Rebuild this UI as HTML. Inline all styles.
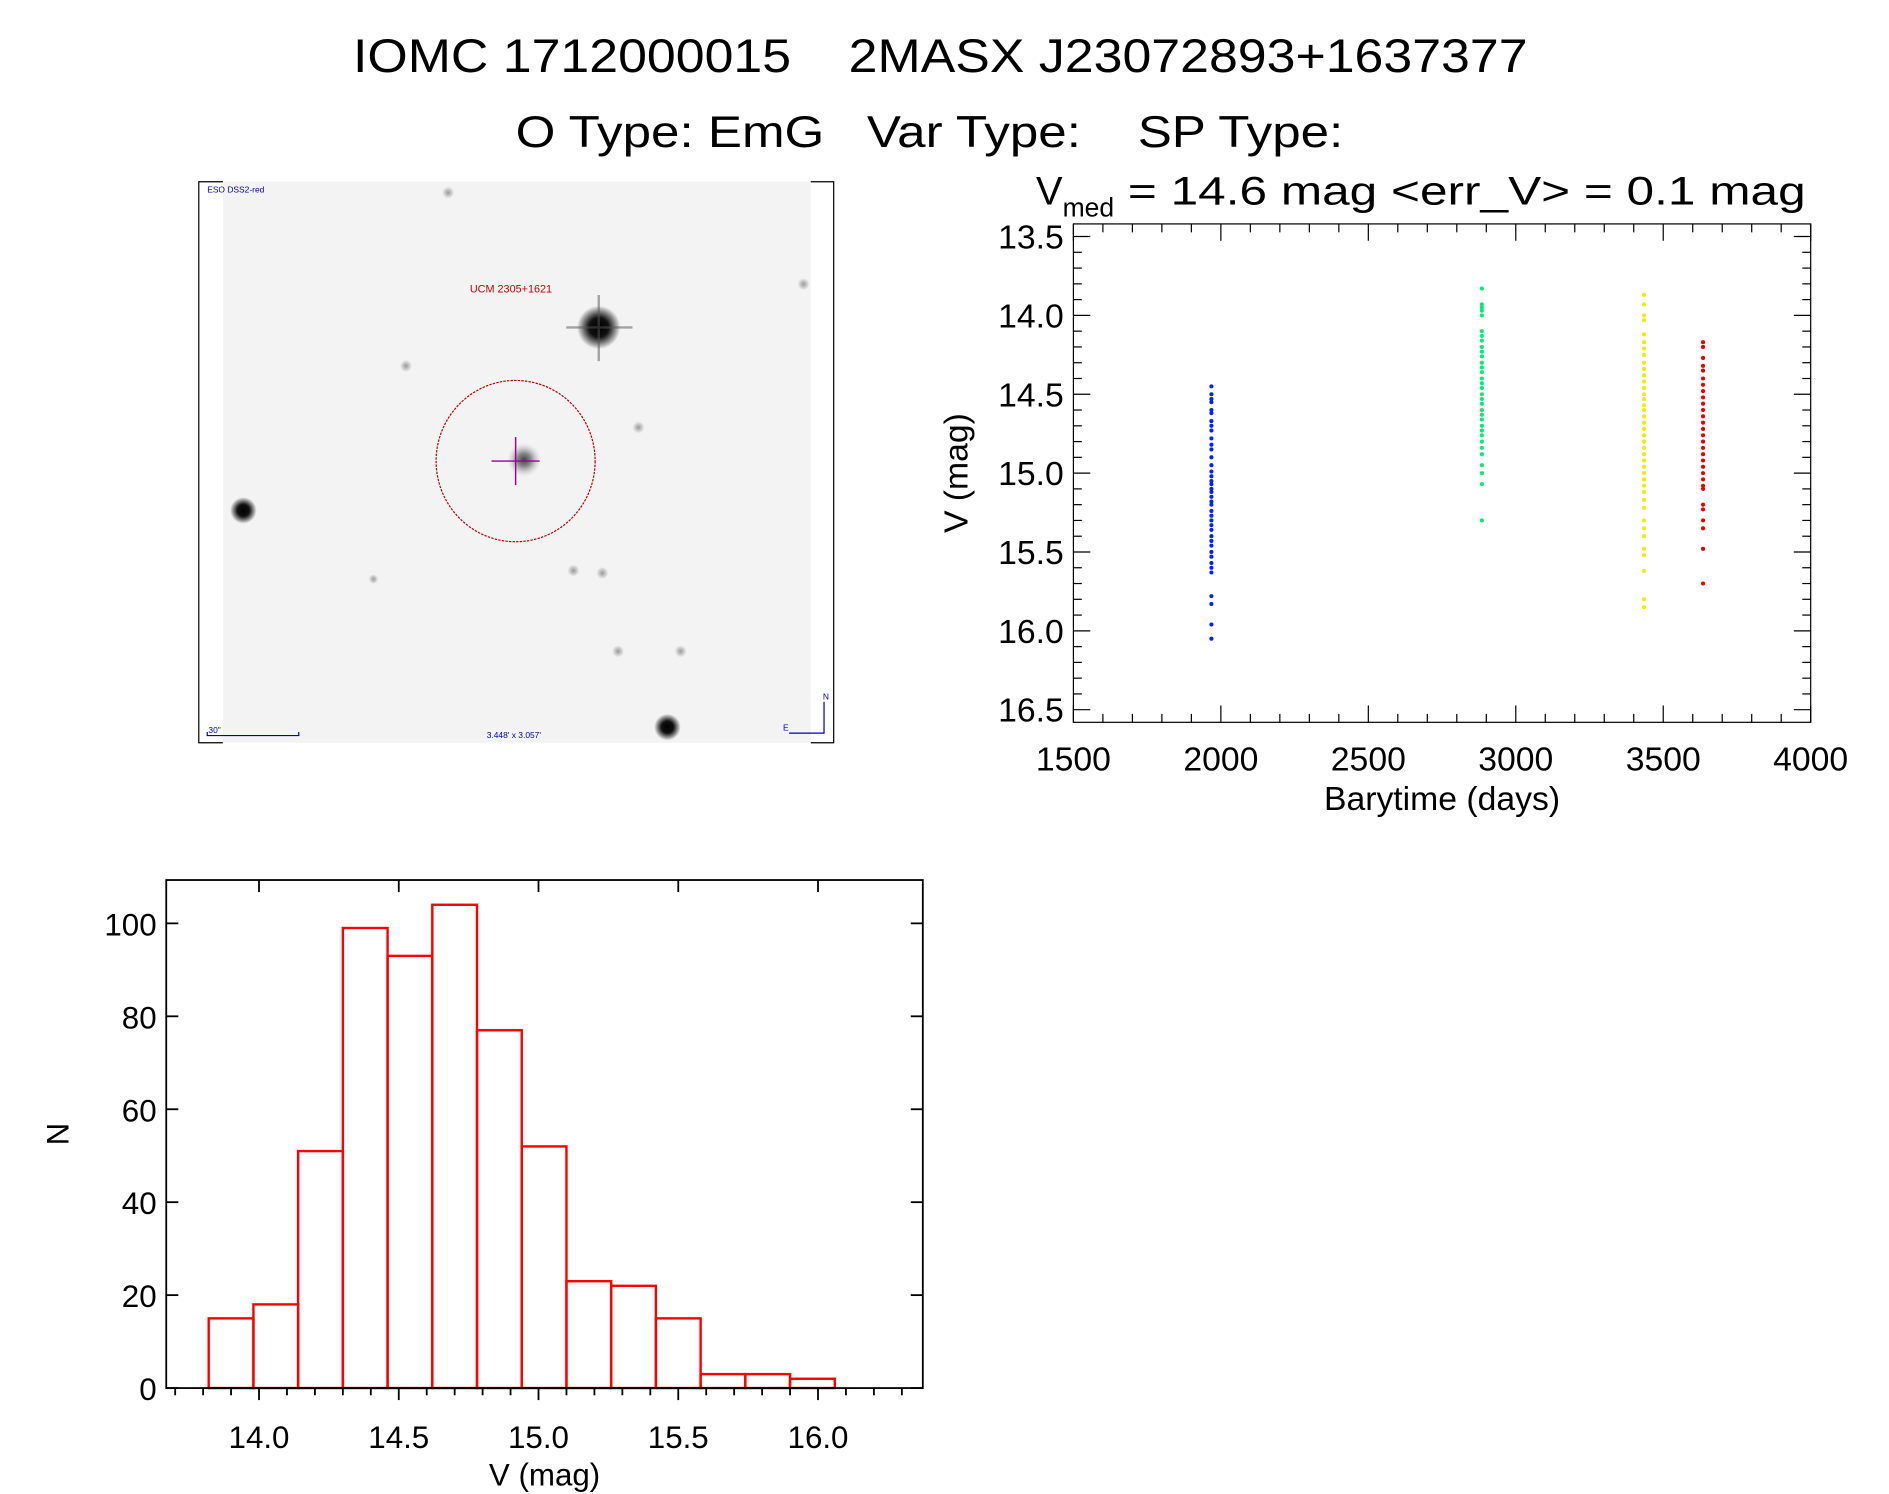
<!DOCTYPE html>
<html><head><meta charset="utf-8"><style>
html,body{margin:0;padding:0;background:#fff;}
svg{display:block;font-family:"Liberation Sans",sans-serif;}
text{white-space:pre;}
</style></head><body>
<svg id="root" width="1889" height="1494" viewBox="0 0 1568 1241" preserveAspectRatio="none">
<defs>
<radialGradient id="star"><stop offset="0" stop-color="#000"/><stop offset="0.45" stop-color="#111"/><stop offset="1" stop-color="#000" stop-opacity="0"/></radialGradient>
<radialGradient id="faint"><stop offset="0" stop-color="#999"/><stop offset="1" stop-color="#999" stop-opacity="0"/></radialGradient>
<radialGradient id="gal"><stop offset="0" stop-color="#444"/><stop offset="0.4" stop-color="#888"/><stop offset="1" stop-color="#ccc" stop-opacity="0"/></radialGradient>
</defs>
<g>
<text x="293" y="60" font-size="39" textLength="975" lengthAdjust="spacingAndGlyphs" xml:space="preserve">IOMC 1712000015    2MASX J23072893+1637377</text>
<text x="428" y="122" font-size="37" textLength="687" lengthAdjust="spacingAndGlyphs" xml:space="preserve">O Type: EmG   Var Type:    SP Type:</text>
<text x="860" y="170" font-size="33">V<tspan font-size="22" dy="10">med</tspan><tspan dy="-10" textLength="574" lengthAdjust="spacingAndGlyphs"> = 14.6 mag &lt;err_V&gt; = 0.1 mag</tspan></text>
</g>
<g>
<rect x="185" y="151" width="488" height="466" fill="#f3f3f3"/>
<path d="M185,151 H165 V617 H185 M673,151 H692 V617 H673" fill="none" stroke="#000" stroke-width="1"/>
<circle cx="497" cy="272" r="18" fill="url(#star)"/>
<path d="M470,272 H525 M497,245 V300" stroke="#555" stroke-width="2" opacity="0.5"/>
<circle cx="202" cy="424" r="11" fill="url(#star)"/>
<circle cx="554" cy="604" r="11" fill="url(#star)"/>
<circle cx="435" cy="382" r="14" fill="url(#gal)"/>
<circle cx="372" cy="160" r="5" fill="url(#faint)"/><circle cx="337" cy="304" r="5" fill="url(#faint)"/>
<circle cx="530" cy="355" r="5" fill="url(#faint)"/><circle cx="476" cy="474" r="5" fill="url(#faint)"/>
<circle cx="500" cy="476" r="5" fill="url(#faint)"/><circle cx="513" cy="541" r="5" fill="url(#faint)"/>
<circle cx="565" cy="541" r="5" fill="url(#faint)"/><circle cx="667" cy="236" r="5" fill="url(#faint)"/>
<circle cx="310" cy="481" r="4" fill="url(#faint)"/>
<ellipse cx="428" cy="383" rx="66" ry="67" fill="none" stroke="#b00" stroke-width="1" stroke-dasharray="2,1"/>
<path d="M408,383 H448 M428,363 V403" stroke="#909" stroke-width="1.2"/>
<text x="390" y="243" font-size="9" fill="#c00">UCM 2305+1621</text>
<text x="172" y="160" font-size="7" fill="#00a">ESO DSS2-red</text>
<text x="404" y="613" font-size="7" fill="#00a">3.448' x 3.057'</text>
<text x="173" y="609" font-size="7" fill="#00a">30"</text>
<path d="M172,608 V611 H248 V608" fill="none" stroke="#00a" stroke-width="1"/>
<path d="M655,609 H684 V583" fill="none" stroke="#00a" stroke-width="1"/>
<text x="683" y="581" font-size="7" fill="#00a">N</text><text x="650" y="607" font-size="7" fill="#00a">E</text>
</g>
<g id="lc"></g>
<g id="hist"></g>
</svg>
<script>
const NS="http://www.w3.org/2000/svg";
function mk(p,t,a){const e=document.createElementNS(NS,t);for(const k in a)e.setAttribute(k,a[k]);p.appendChild(e);return e;}
// ---- light curve data ----
const lcTimes=[1968,2885,3435,3635];
const lcColors=["#0022ff","#00ee77","#eeee00","#ee0000"];
const blueMag=[14.45,14.5,14.53,14.55,14.6,14.62,14.67,14.7,14.73,14.78,14.82,14.85,14.9,14.95,14.99,15.02,15.05,15.07,15.1,15.12,15.15,15.18,15.2,15.24,15.27,15.3,15.33,15.36,15.4,15.43,15.46,15.5,15.53,15.57,15.6,15.63,15.78,15.83,15.96,16.05];
const greenMag=[13.83,13.93,13.95,13.97,14.0,14.1,14.13,14.16,14.2,14.23,14.26,14.3,14.33,14.36,14.4,14.43,14.46,14.5,14.53,14.56,14.6,14.63,14.66,14.7,14.73,14.76,14.8,14.84,14.88,14.95,15.0,15.07,15.3];
const yellowMag=[13.87,13.93,14.0,14.03,14.12,14.17,14.21,14.25,14.3,14.34,14.38,14.42,14.46,14.5,14.53,14.57,14.6,14.64,14.68,14.72,14.76,14.8,14.84,14.88,14.92,14.96,15.0,15.04,15.08,15.12,15.17,15.22,15.3,15.35,15.4,15.48,15.52,15.62,15.8,15.85];
const redMag=[14.17,14.2,14.27,14.32,14.35,14.4,14.44,14.48,14.52,14.56,14.6,14.64,14.68,14.72,14.76,14.8,14.84,14.88,14.92,14.96,15.0,15.04,15.08,15.1,15.2,15.23,15.3,15.35,15.48,15.7];
const lcSeries=[blueMag,greenMag,yellowMag,redMag];
const lcXTicks=[1500,2000,2500,3000,3500,4000];
const lcYTicks=[13.5,14.0,14.5,15.0,15.5,16.0,16.5];
// ---- histogram data ----
const binLeft=[13.82,13.98,14.14,14.30,14.46,14.62,14.78,14.94,15.10,15.26,15.42,15.58,15.74,15.90];
const binWidth=0.16;
const counts=[15,18,51,99,93,104,77,52,23,22,15,3,3,2];
const hXTicks=[14.0,14.5,15.0,15.5,16.0];
const hYTicks=[0,20,40,60,80,100];

(function(){
const g=document.getElementById('lc');
const L=891,R=1503,T=186,B=600;
const x=v=>L+(v-1500)/2500*(R-L);
const y=v=>T+(v-13.42)/(16.58-13.42)*(B-T);
mk(g,'rect',{x:L,y:T,width:R-L,height:B-T,fill:'none',stroke:'#000','stroke-width':1});
for(let v=1500;v<=4000;v+=100){const maj=v%500===0,len=maj?14:7;
 mk(g,'line',{x1:x(v),x2:x(v),y1:B,y2:B-len,stroke:'#000','stroke-width':1});
 mk(g,'line',{x1:x(v),x2:x(v),y1:T,y2:T+len,stroke:'#000','stroke-width':1});}
for(let i=135;i<=165;i++){const v=i/10,maj=i%5===0,len=maj?14:7;
 mk(g,'line',{x1:L,x2:L+len,y1:y(v),y2:y(v),stroke:'#000','stroke-width':1});
 mk(g,'line',{x1:R,x2:R-len,y1:y(v),y2:y(v),stroke:'#000','stroke-width':1});}
lcXTicks.forEach(v=>{const t=mk(g,'text',{x:x(v),y:640,'font-size':28,'text-anchor':'middle'});t.textContent=v;

});
lcYTicks.forEach(v=>{const t=mk(g,'text',{x:883,y:y(v)+10,'font-size':28,'text-anchor':'end'});t.textContent=v.toFixed(1);

});
const xt=mk(g,'text',{x:1197,y:673,'font-size':28,'text-anchor':'middle'});xt.textContent='Barytime (days)';


const yt=mk(g,'text',{x:0,y:0,'font-size':28,'text-anchor':'middle',transform:'translate(803,393) rotate(-90)'});yt.textContent='V (mag)';


lcSeries.forEach((arr,si)=>{arr.forEach(m=>{const c=mk(g,'circle',{cx:x(lcTimes[si]),cy:y(m),r:1.7,fill:lcColors[si]});

});});
})();

(function(){
const g=document.getElementById('hist');
const L=138,R=766,T=731,B=1153;
const x=v=>215+(v-14.0)*232;
const y=v=>B-v*3.86;
counts.forEach((c,i)=>{const r=mk(g,'rect',{x:x(binLeft[i]),y:y(c),width:binWidth*232,height:B-y(c),fill:'none',stroke:'#f00','stroke-width':2});

});
mk(g,'rect',{x:L,y:T,width:R-L,height:B-T,fill:'none',stroke:'#000','stroke-width':1.5});
for(let i=137;i<=163;i++){const v=i/10,maj=i%5===0;const xx=x(v);if(xx<L||xx>R)continue;
 mk(g,'line',{x1:xx,x2:xx,y1:B,y2:B+(maj?10:6),stroke:'#000','stroke-width':1.5});
 if(maj)mk(g,'line',{x1:xx,x2:xx,y1:T,y2:T+10,stroke:'#000','stroke-width':1.5});}
hYTicks.forEach(v=>{mk(g,'line',{x1:L,x2:L+10,y1:y(v),y2:y(v),stroke:'#000','stroke-width':1.5});
 mk(g,'line',{x1:R,x2:R-10,y1:y(v),y2:y(v),stroke:'#000','stroke-width':1.5});
 const t=mk(g,'text',{x:130,y:y(v)+10,'font-size':26,'text-anchor':'end'});t.textContent=v;
 
 });
hXTicks.forEach(v=>{const t=mk(g,'text',{x:x(v),y:1203,'font-size':26,'text-anchor':'middle'});t.textContent=v.toFixed(1);

});
const xt=mk(g,'text',{x:452,y:1234,'font-size':26,'text-anchor':'middle'});xt.textContent='V (mag)';


const yt=mk(g,'text',{x:0,y:0,'font-size':26,'text-anchor':'middle',transform:'translate(57,942) rotate(-90)'});yt.textContent='N';


})();
</script>
</body></html>
